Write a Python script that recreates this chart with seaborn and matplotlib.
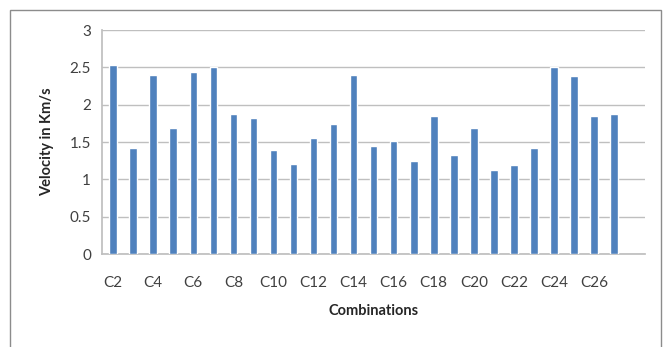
import matplotlib
matplotlib.use("Agg")
import matplotlib.pyplot as plt
import seaborn as sns
import pandas as pd
from matplotlib.patches import Rectangle

categories = [f"C{i}" for i in range(2, 28)]
velocity = [2.53, 1.42, 2.40, 1.69, 2.44, 2.50, 1.88, 1.82, 1.39, 1.20,
            1.56, 1.74, 2.40, 1.45, 1.52, 1.24, 1.85, 1.32, 1.69, 1.13,
            1.19, 1.42, 2.50, 2.39, 1.85, 1.88]
tick_labels = [f"C{i}" for i in range(2, 27, 2)]
yticks = [0, 0.5, 1, 1.5, 2, 2.5, 3]

sns.set_theme(style="white")
plt.rcParams['font.family'] = ['Liberation Sans Narrow', 'Lato', 'DejaVu Sans']

df = pd.DataFrame({"Combination": categories, "Velocity": velocity})

fig = plt.figure(figsize=(6.72, 3.47), dpi=100)
ax = fig.add_axes([0.152, 0.268, 0.808, 0.6455])

sns.barplot(data=df, x="Combination", y="Velocity", color="#4F81BD",
            width=0.38, saturation=1, ax=ax, zorder=3)

ax.set_ylim(0, 3)
ax.set_xlim(-0.55, 26.55)
ax.set_yticks(yticks)
ax.set_yticklabels([f"{v:g}" for v in yticks])
ax.set_xticks(range(0, 26, 2))
ax.set_xticklabels(tick_labels)
ax.tick_params(axis='both', length=0, labelsize=11, colors="#404040")
ax.tick_params(axis='x', pad=16)
ax.tick_params(axis='y', pad=8)
ax.yaxis.grid(True, color="#BFBFBF", linewidth=1, zorder=0)
ax.set_axisbelow(True)
for s in ["top", "right"]:
    ax.spines[s].set_visible(False)
ax.spines["left"].set_color("#BFBFBF")
ax.spines["bottom"].set_color("#BFBFBF")

ax.set_xlabel("Combinations", fontsize=10.5, fontweight="bold", color="#262626", labelpad=10)
ax.set_ylabel("Velocity in Km/s", fontsize=10.5, fontweight="bold", color="#262626", labelpad=11)

fig.patches.append(Rectangle((10/672, -0.01), 651/672, 1 - 10/347 + 0.01,
                             transform=fig.transFigure, fill=False,
                             edgecolor="#8C8C8C", linewidth=1))

fig.savefig("out.png", dpi=100)
